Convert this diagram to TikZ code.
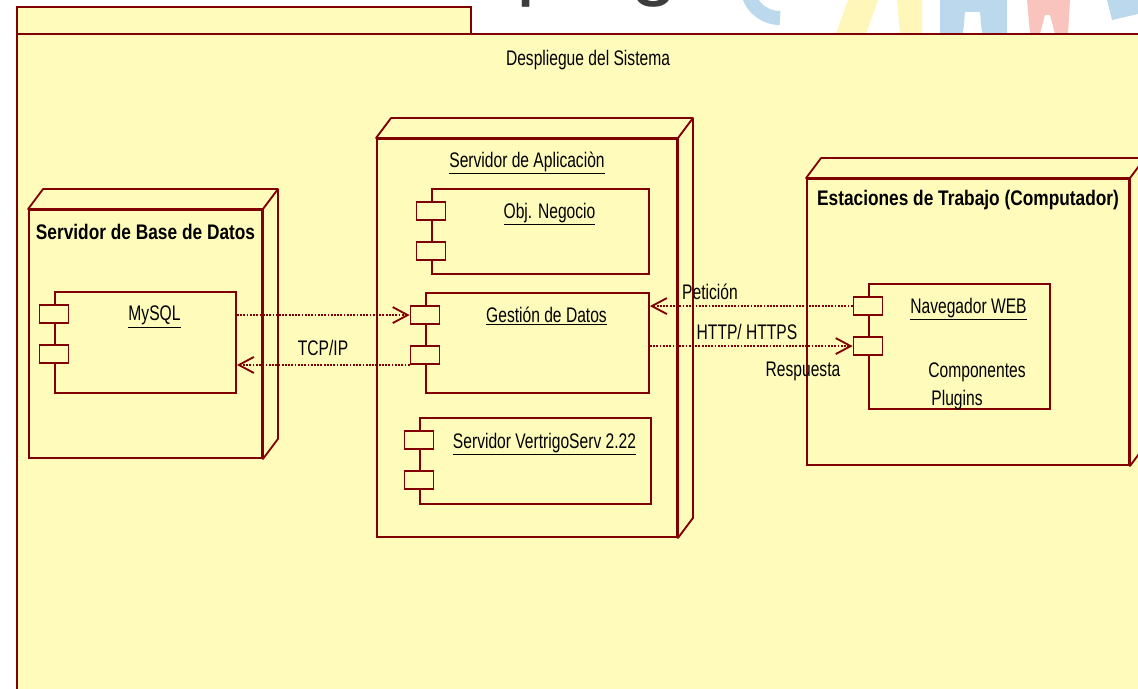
\documentclass[tikz,border=0pt]{standalone}
\usepackage{fontspec}
\setmainfont{Liberation Sans}[FakeStretch=0.74]
\newfontfamily\titlefont{Liberation Sans}[FakeStretch=0.82]
\newfontfamily\markfont{Liberation Sans}
\usetikzlibrary{positioning,arrows.meta,calc}
\definecolor{umlfill}{RGB}{255,252,187}
\definecolor{umlline}{RGB}{128,0,0}
\definecolor{markgray}{RGB}{60,60,60}
\definecolor{markblue}{RGB}{187,216,236}
\definecolor{markyellow}{RGB}{255,246,185}
\definecolor{markred}{RGB}{250,196,190}
\tikzset{
  uml-text/.style={font=\fontsize{15}{18}\selectfont, text=black, inner sep=0pt},
  title-text/.style={font=\titlefont\bfseries\fontsize{15}{18}\selectfont, text=black, inner sep=0pt},
  frame-line/.style={draw=umlline, line width=1.3pt},
  server-node/.style={draw=umlline, line width=1.3pt, fill=umlfill, inner sep=0pt},
  depth-face/.style={draw=umlline, line width=1.3pt, fill=umlfill, line join=round},
  comp-node/.style={draw=umlline, line width=1.3pt, fill=umlfill, inner sep=0pt},
  port-node/.style={draw=umlline, line width=1.3pt, fill=umlfill, inner sep=0pt,
    minimum width=0.725cm, minimum height=0.45cm},
  dep-arrow/.style={draw=umlline, line width=1.3pt, densely dotted,
    -{Straight Barb[length=0.375cm, width=0.4cm]}}
}

\begin{document}
\begin{tikzpicture}[x=0.025cm, y=-0.025cm]
\clip (0,0) rectangle (1138,689);

% watermark remains above the frame
\begin{scope}
  \clip (471,0) rectangle (1138,33);
  \node[font=\markfont\fontsize{61}{61}\selectfont, text=markgray, anchor=base west, inner sep=0pt] (mark) at (516,-10) {plog};
  \draw[markblue, line width=0.35cm] (747,-15) arc[start angle=180, end angle=90, radius=33];
  \fill[markyellow] (848,0) -- (878,0) -- (866,34) -- (836,34) -- cycle;
  \fill[markyellow] (897,0) -- (922,0) -- (922,34) -- (900,34) -- cycle;
  \fill[markblue] (940,0) -- (1007,0) -- (1007,34) -- (982,34) -- (980,12) -- (965,12) -- (963,34) -- (940,34) -- cycle;
  \fill[markred] (1027,0) -- (1070,0) -- (1068,34) -- (1055,34) -- (1050,15) -- (1045,15) -- (1040,34) -- (1030,34) -- cycle;
  \fill[markblue] (1107,0) -- (1138,0) -- (1138,14) -- (1112,20) -- cycle;
\end{scope}

% frame
\draw[frame-line, fill=umlfill] (17,7) rectangle (471,34);
\draw[frame-line, fill=umlfill] (17,34) rectangle (1160,720);
\draw[umlline, line width=2pt] (17,34) -- (1160,34);
\node[uml-text] (frame-title) at (588,60) {Despliegue del Sistema};

% nodes
\node[server-node, minimum width=5.825cm, minimum height=6.2cm] (bd) at (145.5,334) {};
\node[server-node, minimum width=7.5cm, minimum height=9.95cm] (app) at (527,338) {};
\node[server-node, minimum width=8.05cm, minimum height=7.15cm] (ws) at (968,322) {};
\foreach \n in {bd,app,ws}{
  \draw[depth-face] (\n.north west) -- ++(15,-20) -- ($(\n.north east)+(15,-20)$)
    -- ($(\n.south east)+(15,-20)$) -- (\n.south east) -- (\n.north east) -- cycle;
  \draw[depth-face] (\n.north east) -- ++(15,-20);
}
\node[title-text] (bd-title) at ($(bd.north)+(0,23)$) {Servidor de Base de Datos};
\node[uml-text] (app-title) at ($(app.north)+(0,25)$) {\underline{Servidor de Aplicaciòn}};
\node[title-text] (ws-title) at ($(ws.north)+(0,22)$) {Estaciones de Trabajo (Computador)};

% components
\node[comp-node, minimum width=4.525cm, minimum height=2.525cm] (mysql) at (145.5,342.5) {};
\node[comp-node, minimum width=5.425cm, minimum height=2.125cm] (obj) at (540.5,231.5) {};
\node[comp-node, minimum width=5.575cm, minimum height=2.5cm] (gd) at (537.5,343) {};
\node[comp-node, minimum width=5.775cm, minimum height=2.15cm] (vs) at (535.5,461) {};
\node[comp-node, minimum width=4.525cm, minimum height=3.125cm] (nav) at (959.5,346.5) {};
\foreach \c in {mysql,obj,gd,vs,nav}{
  \node[port-node] (\c-p1) at ($(\c.north west)+(0,23)$) {};
  \node[port-node] (\c-p2) at ($(\c.north west)+(0,63)$) {};
}
\node[uml-text] (mysql-name) at ($(mysql.north)+(9,26)$) {\underline{MySQL}};
\node[uml-text] (obj-name) at ($(obj.north)+(9,26)$) {\underline{Obj. Negocio}};
\node[uml-text] (gd-name) at ($(gd.north)+(9,24)$) {\underline{Gestión de Datos}};
\node[uml-text] (vs-name) at ($(vs.north)+(9,27)$) {\underline{Servidor VertrigoServ 2.22}};
\node[uml-text] (nav-name) at ($(nav.north)+(9,26)$) {\underline{Navegador WEB}};
\node[uml-text] (nav-comp) at (977,372) {Componentes};
\node[uml-text] (nav-plug) at (957,400) {Plugins};

% connectors
\draw[dep-arrow] (mysql.east |- gd-p1) -- (gd-p1.west);
\draw[dep-arrow] (gd-p2.south west) -- (mysql.east |- gd-p2.south west);
\draw[dep-arrow] (nav-p1.west) -- (gd.east |- nav-p1.west);
\draw[dep-arrow] (gd.east |- nav-p2.west) -- (nav-p2.west);
\node[uml-text] (tcp) at (323,348) {TCP/IP};
\node[uml-text] (peticion) at (710,292) {Petición};
\node[uml-text] (http) at (747,332) {HTTP/ HTTPS};
\node[uml-text] (respuesta) at (803,371) {Respuesta};
\end{tikzpicture}
\end{document}
